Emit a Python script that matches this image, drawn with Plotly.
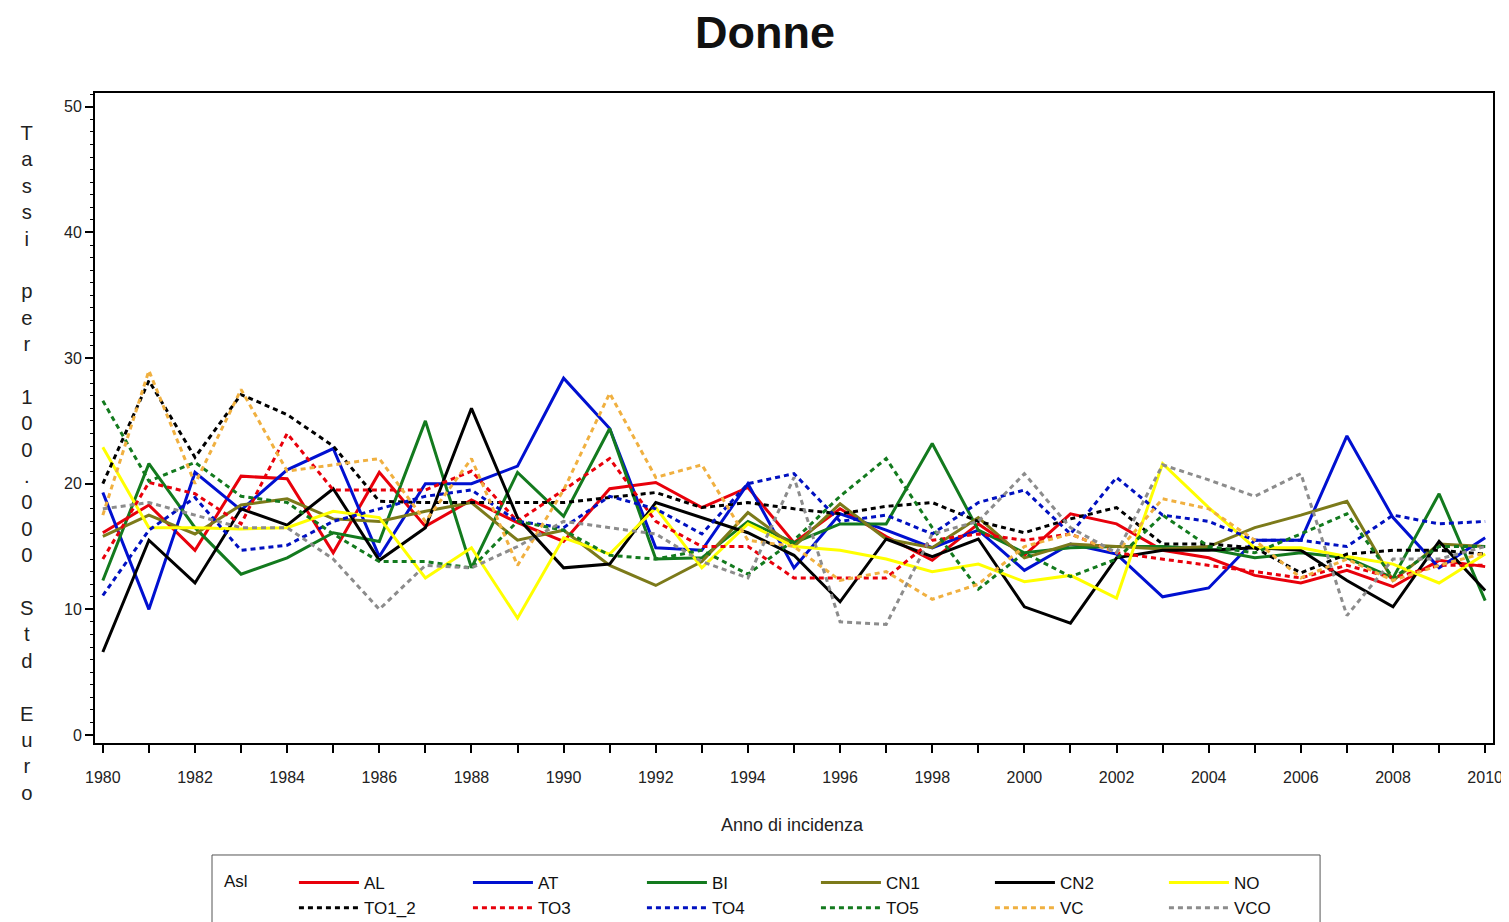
import plotly.graph_objects as go

years = list(range(1980, 2011))

AL = [16.1, 18.3, 14.7, 20.6, 20.4, 14.5, 20.9, 16.6, 18.7, 16.9, 15.4, 19.6, 20.1, 18.1, 19.7, 15.3,
      18.0, 15.8, 13.9, 16.8, 14.3, 17.6, 16.8, 14.7, 14.1, 12.7, 12.1, 13.1, 11.8, 13.9, 13.4]
AT = [19.3, 10.0, 20.9, 17.9, 21.1, 22.8, 14.2, 20.0, 20.0, 21.4, 28.4, 24.4, 14.9, 14.7, 20.0, 13.3,
      17.6, 16.3, 14.9, 16.3, 13.1, 15.2, 14.4, 11.0, 11.7, 15.5, 15.5, 23.8, 17.3, 13.3, 15.7]
BI = [12.3, 21.6, 16.5, 12.8, 14.1, 16.1, 15.4, 25.0, 13.3, 20.9, 17.4, 24.4, 14.0, 14.1, 17.0, 15.3,
      16.8, 16.8, 23.2, 16.3, 14.5, 14.9, 15.0, 15.0, 14.8, 14.1, 14.5, 14.1, 12.5, 19.2, 10.7]
CN1 = [15.8, 17.5, 16.0, 18.3, 18.8, 17.2, 17.0, 17.8, 18.5, 15.5, 16.3, 13.5, 11.9, 13.8, 17.7, 15.0,
       18.4, 15.6, 14.9, 17.3, 14.1, 15.2, 15.0, 14.8, 15.0, 16.5, 17.5, 18.6, 12.3, 15.2, 15.0]
CN2 = [6.6, 15.5, 12.1, 18.0, 16.7, 19.6, 13.9, 16.5, 26.0, 17.3, 13.3, 13.6, 18.5, 17.3, 16.1, 14.3,
       10.6, 15.6, 14.2, 15.6, 10.2, 8.9, 14.1, 14.7, 14.7, 14.9, 14.7, 12.3, 10.2, 15.4, 11.5]
NO = [22.9, 16.5, 16.5, 16.4, 16.5, 17.8, 17.3, 12.5, 14.9, 9.3, 15.7, 14.4, 18.1, 13.3, 16.8, 15.0,
      14.7, 14.0, 13.0, 13.6, 12.2, 12.7, 10.9, 21.6, 18.1, 14.9, 14.9, 14.2, 13.6, 12.1, 14.4]
TO1_2 = [20.0, 28.2, 22.1, 27.1, 25.5, 23.0, 18.6, 18.5, 18.5, 18.5, 18.5, 18.9, 19.3, 18.1, 18.5, 18.0,
         17.6, 18.2, 18.5, 17.0, 16.1, 17.2, 18.1, 15.2, 15.2, 14.9, 12.9, 14.4, 14.7, 14.7, 14.4]
TO3 = [14.0, 20.1, 19.2, 16.8, 24.0, 19.5, 19.5, 19.5, 21.0, 17.0, 19.5, 22.0, 17.0, 15.0, 15.0, 12.5,
       12.5, 12.5, 15.5, 16.0, 15.5, 16.0, 14.5, 14.0, 13.5, 13.0, 12.5, 13.5, 12.5, 13.5, 13.5]
TO4 = [11.1, 16.3, 18.9, 14.7, 15.1, 17.0, 18.0, 19.0, 19.5, 17.0, 16.5, 19.0, 18.0, 16.0, 20.0, 20.8,
       17.0, 17.5, 16.0, 18.5, 19.5, 16.0, 20.5, 17.5, 17.0, 15.5, 15.5, 15.0, 17.5, 16.8, 17.0]
TO5 = [26.6, 20.2, 21.7, 19.0, 18.5, 16.0, 13.8, 13.8, 13.3, 17.0, 16.3, 14.3, 14.0, 14.7, 12.8, 15.5,
       19.0, 22.0, 16.5, 11.6, 14.5, 12.6, 14.0, 17.5, 15.0, 14.5, 16.0, 17.6, 12.5, 15.0, 15.0]
VC = [17.5, 29.0, 20.0, 27.5, 21.0, 21.5, 22.0, 17.0, 22.0, 13.5, 19.5, 27.2, 20.5, 21.5, 15.5, 15.0,
      12.3, 13.0, 10.8, 12.0, 15.0, 16.0, 14.5, 18.8, 18.0, 15.5, 12.5, 14.0, 12.3, 13.5, 14.5]
VCO = [18.0, 18.5, 17.5, 16.5, 16.5, 14.0, 10.0, 13.5, 13.3, 15.0, 17.0, 16.5, 16.0, 13.8, 12.5, 20.5,
       9.0, 8.8, 16.0, 17.0, 20.8, 16.5, 14.5, 21.5, 20.3, 19.0, 20.8, 9.5, 14.0, 14.0, 15.0]

x_ticks = list(range(1980, 2011, 2))
y_ticks = [0, 10, 20, 30, 40, 50]
y_title = "Tassi per 100.000 Std Euro"
x_title = "Anno di incidenza"
legend_title = "Asl"

series = [
    ("AL", AL, "#e8000b", "solid", "g1"),
    ("AT", AT, "#0010d0", "solid", "g2"),
    ("BI", BI, "#137a1e", "solid", "g3"),
    ("CN1", CN1, "#7c7a1a", "solid", "g4"),
    ("CN2", CN2, "#000000", "solid", "g5"),
    ("NO", NO, "#ffff00", "solid", "g6"),
    ("TO1_2", TO1_2, "#000000", "5px,4px", "g1"),
    ("TO3", TO3, "#e8000b", "5px,4px", "g2"),
    ("TO4", TO4, "#0010c0", "5px,4px", "g3"),
    ("TO5", TO5, "#137a1e", "5px,4px", "g4"),
    ("VC", VC, "#f0b040", "5px,4px", "g5"),
    ("VCO", VCO, "#8c8c8c", "5px,4px", "g6"),
]

fig = go.Figure()
for name, vals, color, dash, grp in series:
    fig.add_trace(go.Scatter(
        x=years, y=vals, name=name, mode="lines", legendgroup=grp,
        line=dict(color=color, width=3, dash=dash),
    ))

axis_font = dict(family="Liberation Sans", size=16, color="#222222")

fig.update_layout(
    width=1501, height=914,
    paper_bgcolor="white", plot_bgcolor="white",
    margin=dict(l=87, r=16, t=85, b=179, autoexpand=False),
    title=dict(text="<b>Donne</b>", x=0.5043, xanchor="center", y=0.9737, yanchor="middle",
               font=dict(family="Liberation Sans", size=45, color="#111111")),
    font=dict(family="Liberation Sans", color="#222222"),
    legend=dict(
        orientation="h", traceorder="grouped", groupclick="toggleitem",
        x=0.1423, xanchor="left", y=-0.1877, yanchor="top",
        borderwidth=0, bgcolor="rgba(0,0,0,0)",
        itemwidth=60, entrywidth=99, tracegroupgap=0,
        font=dict(family="Liberation Sans", size=17, color="#111111"),
    ),
    xaxis=dict(
        range=[1979.83, 2010.17], tickmode="array", tickvals=x_ticks,
        ticktext=[str(v) for v in x_ticks],
        showline=True, linecolor="black", linewidth=2, mirror=True,
        ticks="outside", ticklen=8, tickwidth=1.5, tickcolor="black",
        ticklabelstandoff=11,
        minor=dict(dtick=1, ticks="outside", ticklen=8, tickcolor="black", tickwidth=1.5),
        showgrid=False, zeroline=False, tickfont=axis_font,
    ),
    yaxis=dict(
        range=[-0.64, 51.1], tickmode="array", tickvals=y_ticks,
        showline=True, linecolor="black", linewidth=2, mirror=True,
        ticks="outside", ticklen=8, tickwidth=1.5, tickcolor="black",
        minor=dict(dtick=1, ticks="outside", ticklen=3, tickcolor="black", tickwidth=1),
        showgrid=False, zeroline=False, tickfont=axis_font,
    ),
)

# legend frame
fig.add_shape(type="rect", xref="paper", yref="paper", x0=0.0837, x1=0.8763, y0=-0.1723, y1=-0.30,
              line=dict(color="#555555", width=1), fillcolor="rgba(0,0,0,0)", layer="below")

stacked = "<br>".join(ch if ch != " " else "\u00a0" for ch in y_title)
fig.add_annotation(text=stacked, xref="paper", yref="paper", x=-0.0486, y=0.4308,
                   xanchor="center", yanchor="middle", showarrow=False, align="center",
                   font=dict(family="Liberation Sans", size=20.3, color="#222222"))
fig.add_annotation(text=x_title, xref="paper", yref="paper", x=0.4986, y=-0.126,
                   xanchor="center", yanchor="middle", showarrow=False,
                   font=dict(family="Liberation Sans", size=18, color="#222222"))
fig.add_annotation(text=legend_title, xref="paper", yref="paper", x=0.0908, y=-0.2138,
                   xanchor="left", yanchor="middle", showarrow=False,
                   font=dict(family="Liberation Sans", size=17, color="#111111"))

fig.write_html("out.html")
